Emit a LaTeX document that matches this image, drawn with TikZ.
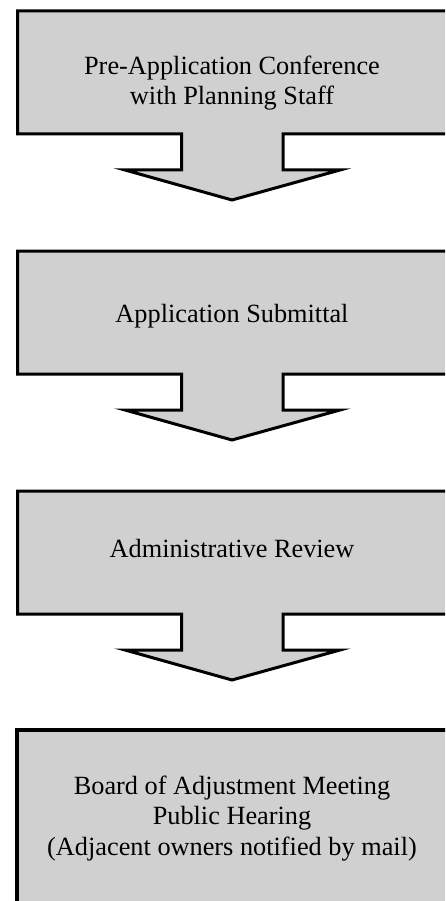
\documentclass[tikz,border=0pt]{standalone}
\usepackage{fontspec}
\setmainfont{Liberation Serif}
\definecolor{boxgray}{RGB}{208,208,208}
\tikzset{
  calloutshape/.style={draw=black, fill=boxgray, line width=3pt, line join=miter},
  plainbox/.style={draw=black, fill=boxgray, line width=4pt},
  steptext/.style={font=\fontsize{26.3}{30}\selectfont, inner sep=0pt, anchor=base}
}
\begin{document}
\begin{tikzpicture}[x=1pt, y=-1pt]
\useasboundingbox (0,0) rectangle (445,901);
\clip (0,0) rectangle (445,901);
% callout arrows
\foreach \T in {11,251,491}{
  \draw[calloutshape] (17.5,\T) -- (448,\T) -- (448,\T+123) -- (283,\T+123)
    -- (283,\T+159) -- (340,\T+159) -- (232,\T+189) -- (125,\T+159)
    -- (181.5,\T+159) -- (181.5,\T+123) -- (17.5,\T+123) -- cycle;
}
\draw[plainbox] (17,730) rectangle (448,960);
% texts
\node[steptext] (t1a) at (232,75) {Pre-Application Conference};
\node[steptext] (t1b) at (232,105) {with Planning Staff};
\node[steptext] (t2) at (232,322) {Application Submittal};
\node[steptext] (t3) at (232,557) {Administrative Review};
\node[steptext] (t4a) at (232,794) {Board of Adjustment Meeting};
\node[steptext] (t4b) at (232,824) {Public Hearing};
\node[steptext] (t4c) at (232,855) {(Adjacent owners notified by mail)};
\end{tikzpicture}
\end{document}
